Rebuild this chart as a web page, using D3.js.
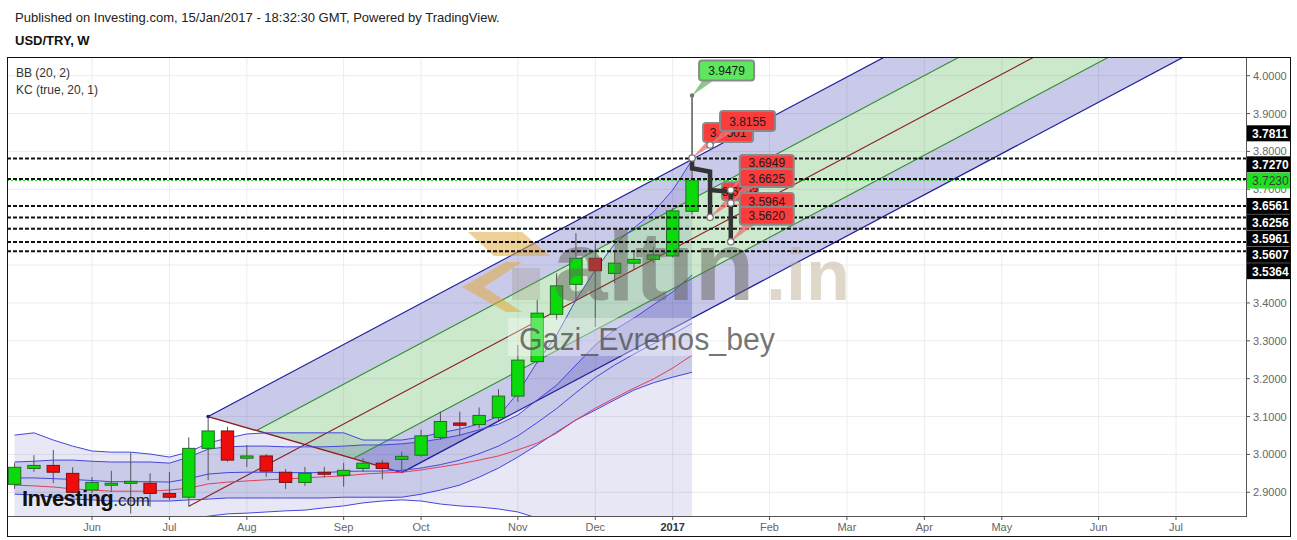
<!DOCTYPE html>
<html><head><meta charset="utf-8">
<script src="https://cdn.jsdelivr.net/npm/d3@7"></script>
<style>body{margin:0;background:#fff;} svg{display:block;font-family:"Liberation Sans",Arial,sans-serif;}</style>
</head><body>
<svg id="c" width="1297" height="540"></svg>
<script>
// ---------------- DATA ----------------
const weeks = ["2016-05-09","2016-05-16","2016-05-23","2016-05-30","2016-06-06","2016-06-13","2016-06-20","2016-06-27","2016-07-04","2016-07-11","2016-07-18","2016-07-25","2016-08-01","2016-08-08","2016-08-15","2016-08-22","2016-08-29","2016-09-05","2016-09-12","2016-09-19","2016-09-26","2016-10-03","2016-10-10","2016-10-17","2016-10-24","2016-10-31","2016-11-07","2016-11-14","2016-11-21","2016-11-28","2016-12-05","2016-12-12","2016-12-19","2016-12-26","2017-01-02","2017-01-09"];
const open  = [2.921,2.963,2.971,2.950,2.906,2.920,2.925,2.924,2.897,2.887,3.016,3.062,2.990,2.996,2.953,2.926,2.953,2.945,2.963,2.977,2.987,2.998,3.045,3.083,3.079,3.097,3.154,3.245,3.370,3.449,3.518,3.478,3.505,3.515,3.524,3.642];
const high  = [2.977,2.998,3.012,2.966,2.940,2.957,3.005,2.950,2.954,3.045,3.100,3.073,3.025,3.001,2.961,2.967,2.967,2.978,2.990,2.985,3.007,3.065,3.113,3.113,3.124,3.172,3.289,3.408,3.478,3.584,3.557,3.535,3.540,3.548,3.650,3.9479];
const low   = [2.909,2.954,2.924,2.899,2.897,2.901,2.844,2.862,2.880,2.862,2.932,2.981,2.967,2.941,2.909,2.917,2.939,2.915,2.954,2.934,2.954,2.994,3.038,3.049,3.069,3.091,3.139,3.240,3.355,3.408,3.337,3.452,3.487,3.505,3.520,3.633];
const close = [2.966,2.971,2.953,2.900,2.926,2.924,2.929,2.897,2.887,3.016,3.062,2.985,2.996,2.956,2.926,2.950,2.948,2.958,2.977,2.963,2.995,3.049,3.087,3.077,3.103,3.154,3.249,3.373,3.445,3.518,3.485,3.505,3.515,3.527,3.643,3.7230];

const bbUpper = [3.051,3.057,3.038,3.022,3.009,3.006,3.006,3.001,2.993,3.006,3.030,3.043,3.054,3.057,3.057,3.057,3.057,3.057,3.038,3.038,3.038,3.046,3.057,3.067,3.080,3.101,3.162,3.244,3.315,3.408,3.487,3.556,3.598,3.640,3.698,3.777];
const bbBasis = [2.919,2.917,2.914,2.909,2.906,2.903,2.903,2.903,2.906,2.911,2.922,2.927,2.930,2.933,2.935,2.938,2.941,2.943,2.948,2.951,2.953,2.959,2.967,2.975,2.985,2.996,3.012,3.030,3.056,3.091,3.122,3.149,3.175,3.199,3.228,3.262];
const bbLower = [2.800,2.795,2.800,2.806,2.811,2.811,2.811,2.814,2.822,2.827,2.837,2.843,2.845,2.848,2.851,2.853,2.859,2.864,2.872,2.877,2.880,2.877,2.869,2.864,2.861,2.856,2.848,2.832,2.811,2.787,2.761,2.742,2.732,2.721,2.708,2.695];
const kcUpper = [2.980,2.982,2.985,2.985,2.982,2.980,2.980,2.980,2.977,2.993,3.014,3.020,3.022,3.022,3.020,3.020,3.020,3.022,3.025,3.025,3.028,3.033,3.041,3.051,3.065,3.080,3.104,3.144,3.183,3.236,3.289,3.329,3.360,3.395,3.429,3.474];
const kcMid   = [2.938,2.938,2.936,2.934,2.931,2.928,2.928,2.928,2.927,2.936,2.948,2.952,2.953,2.953,2.952,2.952,2.952,2.955,2.956,2.956,2.958,2.964,2.973,2.985,3.002,3.022,3.049,3.084,3.121,3.163,3.203,3.236,3.265,3.292,3.317,3.346];
const kcLower = [2.895,2.893,2.887,2.882,2.880,2.877,2.877,2.877,2.877,2.880,2.882,2.885,2.885,2.885,2.885,2.885,2.885,2.887,2.887,2.887,2.887,2.895,2.906,2.919,2.940,2.964,2.993,3.025,3.059,3.091,3.117,3.144,3.170,3.189,3.204,3.217];

const priceTicks = [2.9,3.0,3.1,3.2,3.3,3.4,3.5,3.6,3.7,3.8,3.9,4.0];
const monthTickDates  = ["2016-06-06","2016-07-04","2016-08-01","2016-09-05","2016-10-03","2016-11-07","2016-12-05","2017-01-02","2017-02-06","2017-03-06","2017-04-03","2017-05-01","2017-06-05","2017-07-03"];
const monthTickLabels = ["Jun","Jul","Aug","Sep","Oct","Nov","Dec","2017","Feb","Mar","Apr","May","Jun","Jul"];

const levelPrices = [3.7811,3.7270,3.6561,3.6256,3.5961,3.5607,3.5364];
const lastPrice = 3.7230;

// pitchfork pivots
const pfDates  = ["2016-07-11","2016-07-18","2016-09-26"];
const pfPrices = [2.863,3.100,2.952];

// projection paths (thick dark)
const path1Dates  = ["2017-01-09","2017-01-09","2017-01-15T12:00","2017-01-15T12:00"];
const path1Prices = [3.7774,3.7555,3.7465,3.6261];
const path2Dates  = ["2017-01-15T12:00","2017-01-23","2017-01-23"];
const path2Prices = [3.6982,3.6937,3.5617];
const dotDates  = ["2017-01-09","2017-01-15T12:00","2017-01-23","2017-01-23","2017-01-15T12:00","2017-01-23"];
const dotPrices = [3.7827,3.8170,3.6982,3.6638,3.6261,3.5617];

// callouts
const calloutTexts  = ["3.9479","3.7501","3.8155","3.6949","3.6203","3.6625","3.5964","3.5620"];
const calloutDates  = ["2017-01-09","2017-01-09","2017-01-15T12:00","2017-01-23","2017-01-15T12:00","2017-01-23","2017-01-23","2017-01-23"];
const calloutPrices = [3.9479,3.7827,3.8170,3.6982,3.6261,3.6638,3.6638,3.5617];
const calloutKinds  = ["up","dn","dn","dn","dn","dn","dn","dn"];

// ---------------- LAYOUT ----------------
const svg = d3.select("#c");
const X0 = 7, X1 = 1246, Y0 = 57, Y1 = 516;
const pd = s => s.length > 10 ? d3.utcParse("%Y-%m-%dT%H:%M")(s) : d3.utcParse("%Y-%m-%d")(s);
const x = d3.scaleUtc().domain([pd("2016-06-06"), pd("2017-07-03")]).range([92, 1176]);
const y = d3.scaleLinear().domain([2.9, 4.0]).range([492.3, 75.7]);
const dates = weeks.map(pd);
const barStep = x(dates[1]) - x(dates[0]);

svg.append("defs").append("clipPath").attr("id","plot")
  .append("rect").attr("x",X0).attr("y",Y0).attr("width",X1-X0).attr("height",Y1-Y0);

// header
svg.append("text").attr("x",15).attr("y",22).attr("font-size",13).attr("fill","#222")
  .text("Published on Investing.com, 15/Jan/2017 - 18:32:30 GMT, Powered by TradingView.");
svg.append("text").attr("x",15).attr("y",45).attr("font-size",13).attr("font-weight","bold").attr("fill","#111")
  .text("USD/TRY, W");

const g = svg.append("g");
const plot = g.append("g").attr("clip-path","url(#plot)");

// grid
plot.selectAll(".vg").data(monthTickDates).join("line")
  .attr("x1",d=>x(pd(d))).attr("x2",d=>x(pd(d))).attr("y1",Y0).attr("y2",Y1)
  .attr("stroke","#ececec").attr("stroke-width",1);
plot.selectAll(".hg").data(priceTicks).join("line")
  .attr("x1",X0).attr("x2",X1).attr("y1",d=>y(d)).attr("y2",d=>y(d))
  .attr("stroke","#ececec").attr("stroke-width",1);

// BB & KC fills
const idx = d3.range(weeks.length);
const areaOf = (lo, hi) => d3.area().x(i=>x(dates[i])).y0(i=>y(lo[i])).y1(i=>y(hi[i]));
plot.append("path").attr("d", areaOf(bbLower,bbUpper)(idx)).attr("fill","rgba(40,40,160,0.11)");
plot.append("path").attr("d", areaOf(kcLower,kcUpper)(idx)).attr("fill","rgba(40,40,170,0.15)");

// pitchfork
const P = pfDates.map((d,i)=>[x(pd(d)), y(pfPrices[i])]);
const M = [(P[1][0]+P[2][0])/2, (P[1][1]+P[2][1])/2];
const dir = [M[0]-P[0][0], M[1]-P[0][1]];
const T = 20;
const ext = p => [p[0]+T*dir[0], p[1]+T*dir[1]];
const Q2 = [(P[1][0]+M[0])/2, (P[1][1]+M[1])/2];
const Q3 = [(P[2][0]+M[0])/2, (P[2][1]+M[1])/2];
const poly = pts => "M" + pts.map(p=>p.join(",")).join("L") + "Z";
plot.append("path").attr("d", poly([P[1], ext(P[1]), ext(Q2), Q2])).attr("fill","rgba(40,40,170,0.25)");
plot.append("path").attr("d", poly([Q2, ext(Q2), ext(Q3), Q3])).attr("fill","rgba(40,160,40,0.23)");
plot.append("path").attr("d", poly([Q3, ext(Q3), ext(P[2]), P[2]])).attr("fill","rgba(40,40,170,0.25)");
const seg = (a,b,c,w) => plot.append("line").attr("x1",a[0]).attr("y1",a[1]).attr("x2",b[0]).attr("y2",b[1]).attr("stroke",c).attr("stroke-width",w||1);
seg(P[1], ext(P[1]), "#1c1c9a", 1.2);
seg(P[2], ext(P[2]), "#1c1c9a", 1.2);
seg(Q2, ext(Q2), "#2f8f2f", 1.1);
seg(Q3, ext(Q3), "#2f8f2f", 1.1);
seg(P[0], ext(P[0]), "#8b1e1e", 1.1);
seg(P[1], P[2], "#8b1e1e", 1.4);

// indicator lines
const lineOf = arr => d3.line().x(i=>x(dates[i])).y(i=>y(arr[i]))(idx);
[[bbUpper,"#4646dc"],[bbLower,"#4646dc"],[kcUpper,"#4646dc"],[kcMid,"#4646dc"],[kcLower,"#4646dc"],[bbBasis,"#e0405a"]]
  .forEach(([a,c]) => plot.append("path").attr("d",lineOf(a)).attr("fill","none").attr("stroke",c).attr("stroke-width",1));

// candles
const bw = barStep*0.64;
const cg = plot.append("g");
cg.selectAll(".wick").data(idx).join("line")
  .attr("x1",i=>x(dates[i])).attr("x2",i=>x(dates[i]))
  .attr("y1",i=>y(high[i])).attr("y2",i=>y(low[i]))
  .attr("stroke","#555").attr("stroke-width",1);
cg.selectAll(".body").data(idx).join("rect")
  .attr("x",i=>x(dates[i])-bw/2).attr("width",bw)
  .attr("y",i=>y(Math.max(open[i],close[i])))
  .attr("height",i=>Math.max(2,Math.abs(y(open[i])-y(close[i]))))
  .attr("fill",i=>close[i]>=open[i]?"#0ada0a":"#ee0c0c")
  .attr("stroke",i=>close[i]>=open[i]?"#246b24":"#7a1010").attr("stroke-width",1);

// watermarks
const wm = plot.append("g");
wm.append("path").attr("d","M468,232L522,232L550,256L494,256Z M506,262L522,262L484,287L522,312L506,312L462,287Z")
  .attr("fill","rgba(226,170,64,0.55)");
wm.append("path").attr("d","M512,268L540,268L540,300L512,300Z").attr("fill","rgba(150,140,120,0.25)");
wm.append("text").attr("x",553).attr("y",300).attr("font-size",98).attr("font-weight","bold")
  .attr("fill","rgba(100,100,92,0.5)").text("altın");
wm.append("text").attr("x",766).attr("y",300).attr("font-size",72).attr("font-weight","bold")
  .attr("fill","rgba(190,175,150,0.5)").text(".in");
wm.append("rect").attr("x",508).attr("y",318).attr("width",270).attr("height",38).attr("fill","rgba(255,255,255,0.35)");
wm.append("text").attr("x",519).attr("y",350).attr("font-size",31).attr("textLength",256).attr("lengthAdjust","spacingAndGlyphs")
  .attr("fill","rgba(80,80,80,0.78)").text("Gazi_Evrenos_bey");

// horizontal levels
plot.selectAll(".lvl").data(levelPrices).join("line")
  .attr("x1",X0).attr("x2",X1).attr("y1",d=>y(d)).attr("y2",d=>y(d))
  .attr("stroke","#111").attr("stroke-width",2).attr("stroke-dasharray","4,2");
plot.append("line").attr("x1",X0).attr("x2",X1).attr("y1",y(lastPrice)).attr("y2",y(lastPrice))
  .attr("stroke","#1ecc1e").attr("stroke-width",1).attr("stroke-dasharray","2,2");

// projection paths
const pline = (ds,ps) => d3.line()(ds.map((d,i)=>[x(pd(d)), y(ps[i])]));
const ann = plot.append("g");

// callouts
const boxOff = [[7,-35,55,20],[11,-35,50,19],[10,-34,55,20],[9,-35,54,16],[12,-35,36,18],[9,-34,54,18],[9,-10,54,16],[9,-35,54,18]];
const order = [0,1,2,4,3,5,6,7];
order.forEach(k => {
  const ax = x(pd(calloutDates[k])), ay = y(calloutPrices[k]);
  const [dx,dy,w,h] = boxOff[k];
  const bx = ax+dx, by = ay+dy;
  const up = calloutKinds[k]==="up";
  ann.append("path").attr("d",`M${ax},${ay}L${bx+4},${by+h-1}L${bx+16},${by+h-1}Z`)
    .attr("fill", up ? "rgba(120,190,120,0.85)" : "rgba(235,120,120,0.8)");
  ann.append("rect").attr("x",bx).attr("y",by).attr("width",w).attr("height",h).attr("rx",3)
    .attr("fill", up ? "#5ee65e" : "#fb3c3c").attr("stroke","#8a8a8a").attr("stroke-width",2);
  ann.append("text").attr("x",bx+w/2).attr("y",by+h/2+4.5).attr("text-anchor","middle")
    .attr("font-size",12).attr("fill","#1a1a1a").text(calloutTexts[k]);
});
ann.append("path").attr("d",pline(path1Dates,path1Prices)).attr("fill","none").attr("stroke","#333").attr("stroke-width",4.5);
ann.append("path").attr("d",pline(path2Dates,path2Prices)).attr("fill","none").attr("stroke","#333").attr("stroke-width",4.5);
ann.append("line").attr("x1",x(pd("2017-01-09"))).attr("x2",x(pd("2017-01-09")))
  .attr("y1",y(3.9479)).attr("y2",y(3.7827)).attr("stroke","#666").attr("stroke-width",1.2);
ann.selectAll(".dot").data(dotDates).join("circle")
  .attr("cx",(d,i)=>x(pd(d))).attr("cy",(d,i)=>y(dotPrices[i])).attr("r",3.2)
  .attr("fill","#fff").attr("stroke","#777").attr("stroke-width",1.3);
ann.append("circle").attr("cx",x(pd("2017-01-09"))).attr("cy",y(3.9479)).attr("r",2.2).attr("fill","#777");

// pitchfork pivot dot
plot.append("circle").attr("cx",P[1][0]).attr("cy",P[1][1]).attr("r",1.8).attr("fill","#1c1c9a");

// legend
svg.append("text").attr("x",16).attr("y",77).attr("font-size",12).attr("fill","#333").text("BB (20, 2)");
svg.append("text").attr("x",16).attr("y",94).attr("font-size",12).attr("fill","#333").text("KC (true, 20, 1)");

// Investing.com logo
const lg = svg.append("text").attr("x",22).attr("y",506);
lg.append("tspan").attr("font-size",22).attr("font-weight","bold").attr("fill","#111").attr("letter-spacing",-0.6).text("Investing");
lg.append("tspan").attr("font-size",17).attr("fill","#222").text(".com");

// axes
svg.append("line").attr("x1",X0).attr("x2",X1).attr("y1",Y1+0.5).attr("y2",Y1+0.5).attr("stroke","#555");
svg.append("line").attr("x1",X1+0.5).attr("x2",X1+0.5).attr("y1",Y0).attr("y2",Y1+1).attr("stroke","#555");
svg.selectAll(".xt").data(monthTickDates).join("line")
  .attr("x1",d=>x(pd(d))).attr("x2",d=>x(pd(d))).attr("y1",Y1).attr("y2",Y1+4).attr("stroke","#555");
svg.selectAll(".xl").data(monthTickDates).join("text")
  .attr("x",d=>x(pd(d))).attr("y",531).attr("text-anchor","middle").attr("font-size",11)
  .attr("fill",(d,i)=>monthTickLabels[i]==="2017"?"#333":"#666")
  .attr("font-weight",(d,i)=>monthTickLabels[i]==="2017"?"bold":"normal")
  .text((d,i)=>monthTickLabels[i]);

// price labels (collision layout around last price)
const labs = levelPrices.map(p=>({p, cur:false})).concat([{p:lastPrice, cur:true}]);
labs.sort((a,b)=>b.p-a.p);
labs.forEach(l=>l.y=y(l.p));
const ai = labs.findIndex(l=>l.cur), gap = 16.3;
for (let i=ai-1;i>=0;i--) labs[i].y = Math.min(labs[i].y, labs[i+1].y-(i<ai-1?31:gap));
for (let i=ai+1;i<labs.length;i++) labs[i].y = Math.max(labs[i].y, labs[i-1].y+gap);

svg.selectAll(".yt").data(priceTicks).join("line")
  .attr("x1",X1).attr("x2",X1+4).attr("y1",d=>y(d)).attr("y2",d=>y(d)).attr("stroke","#555");
const visibleTicks = priceTicks.filter(t => labs.every(l => Math.abs(l.y - y(t)) >= 8));
svg.selectAll(".yl").data(visibleTicks).join("text")
  .attr("x",1253).attr("y",d=>y(d)+4).attr("font-size",11).attr("fill","#666")
  .text(d3.format(".4f"));

labs.forEach(l=>{
  svg.append("rect").attr("x",X1+1).attr("y",l.y-8).attr("width",44).attr("height",16)
    .attr("fill", l.cur ? "#1fe21f" : "#000");
  svg.append("text").attr("x",X1+6).attr("y",l.y+4.5).attr("font-size",12)
    .attr("font-weight", l.cur ? "normal" : "bold")
    .attr("fill", l.cur ? "#3a3a3a" : "#fff").text(d3.format(".4f")(l.p));
});

// outer frame
svg.append("rect").attr("x",7.5).attr("y",57.5).attr("width",1283).attr("height",479)
  .attr("fill","none").attr("stroke","#111").attr("stroke-width",1);
</script>
</body></html>
